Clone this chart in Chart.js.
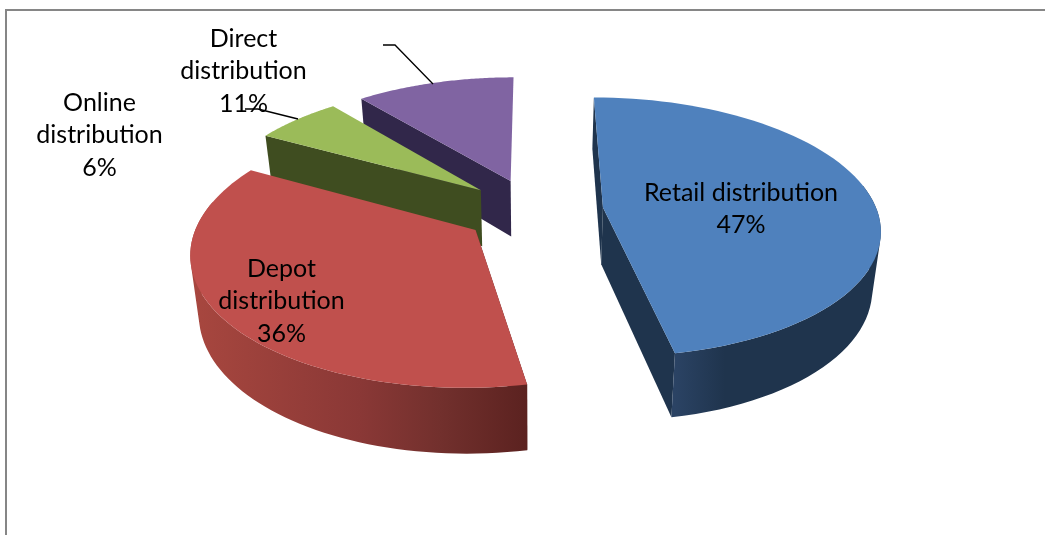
<!DOCTYPE html>
<html>
<head>
<meta charset="utf-8">
<style>html,body{margin:0;padding:0;background:#fff}canvas{display:block}</style>
<script src="https://cdn.jsdelivr.net/npm/chart.js@4"></script>
</head>
<body>
<canvas id="c" width="1045" height="535"></canvas>
<script>
const categories = ['Retail distribution', 'Depot distribution', 'Online distribution', 'Direct distribution'];
const shares = [47, 36, 6, 11];
const wrapLabel = [false, true, true, true];

const topColors = ['#4f81bd', '#c0504d', '#9bbb59', '#8064a2'];
const cutColors = ['#1f344d', '#5a211f', '#3f4d20', '#31274a'];
const wallStops = [
  [[675, '#2b4364'], [725, '#1f344d'], [880, '#1f344d']],
  [[190, '#a8473f'], [360, '#8a3836'], [440, '#72302d'], [533, '#5a211f']],
  [[260, '#3f4d20'], [340, '#3f4d20']],
  [[350, '#31274a'], [520, '#31274a']]
];
const labelCenters = [[741, 193], [281.5, 269], [99.5, 103], [243.5, 39]];
const leaders = [[[245, 109], [258, 109], [298, 119]], [[383, 45], [395, 45], [433, 84]]];

const view = {x0: 533.5, y0: 210.5, radius: 274, explode: 70, squash: 0.465, persp: 0.00055,
  baseShrink: 0.975, depth: 57, depthGrow: 0.05};

function projectTop(u, v) {
  const f = 1 / (1 - view.persp * v);
  return [view.x0 + u * f, view.y0 + view.squash * v * f];
}
function projectBase(u, v) {
  const f = 1 / (1 - view.persp * v);
  const y = view.y0 + view.squash * v * f;
  return [view.x0 + u * f * view.baseShrink, y + view.depth + view.depthGrow * (y - view.y0)];
}
function poly(ctx, pts, fill) {
  ctx.beginPath();
  pts.forEach((p, i) => i ? ctx.lineTo(p[0], p[1]) : ctx.moveTo(p[0], p[1]));
  ctx.closePath();
  ctx.fillStyle = fill;
  ctx.fill();
}
function signedArea(q) {
  let s = 0;
  q.forEach((p, i) => { const r = q[(i + 1) % q.length]; s += p[0] * r[1] - r[0] * p[1]; });
  return s;
}

const perspectivePie = {
  id: 'perspectivePie',
  beforeDraw(chart) {
    const ctx = chart.ctx;
    ctx.save();
    ctx.strokeStyle = '#868686';
    ctx.lineWidth = 2;
    ctx.strokeRect(6, 10, 1200, 1000);
    ctx.restore();
  },
  beforeDatasetDraw(chart, args) {
    const ctx = chart.ctx;
    const arcs = args.meta.data;
    const order = [3, 2, 1, 0];
    order.forEach(i => {
      const a = arcs[i];
      const mid = (a.startAngle + a.endAngle) / 2;
      const ox = view.explode * Math.cos(mid), oy = view.explode * Math.sin(mid);
      const n = 72, rim = [], angles = [];
      for (let k = 0; k <= n; k++) {
        const t = a.startAngle + (a.endAngle - a.startAngle) * k / n;
        angles.push(t);
        rim.push([ox + view.radius * Math.cos(t), oy + view.radius * Math.sin(t)]);
      }
      const topRim = rim.map(p => projectTop(p[0], p[1]));
      const baseRim = rim.map(p => projectBase(p[0], p[1]));
      const apexT = projectTop(ox, oy), apexB = projectBase(ox, oy);
      // cut faces: the closing face only shows when it turns towards the viewer
      poly(ctx, [topRim[0], apexT, apexB, baseRim[0]], cutColors[i]);
      if (a.endAngle < Math.PI) poly(ctx, [topRim[n], apexT, apexB, baseRim[n]], cutColors[i]);
      // outer wall, front-facing part only: one path of same-orientation quads, so no seams show
      const stops = wallStops[i];
      const x1 = stops[0][0], x2 = stops[stops.length - 1][0];
      const g = ctx.createLinearGradient(x1, 0, x2, 0);
      stops.forEach(s => g.addColorStop((s[0] - x1) / (x2 - x1), s[1]));
      ctx.beginPath();
      for (let k = 0; k < n; k++) {
        if (Math.sin(angles[k]) < -0.2) continue;
        let q = [topRim[k], topRim[k + 1], baseRim[k + 1], baseRim[k]];
        if (signedArea(q) < 0) q = q.reverse();
        q.forEach((p, j) => j ? ctx.lineTo(p[0], p[1]) : ctx.moveTo(p[0], p[1]));
        ctx.closePath();
      }
      ctx.fillStyle = g;
      ctx.fill('nonzero');
      // top face
      poly(ctx, [apexT].concat(topRim), topColors[i]);
    });
    return false;
  },
  afterDatasetsDraw(chart) {
    const ctx = chart.ctx;
    ctx.save();
    ctx.strokeStyle = '#000';
    ctx.lineWidth = 1.3;
    leaders.forEach(l => {
      ctx.beginPath();
      l.forEach((p, i) => i ? ctx.lineTo(p[0], p[1]) : ctx.moveTo(p[0], p[1]));
      ctx.stroke();
    });
    ctx.fillStyle = '#000';
    ctx.font = '25px Lato';
    ctx.textAlign = 'center';
    ctx.textBaseline = 'middle';
    categories.forEach((name, i) => {
      const lines = (wrapLabel[i] ? name.split(' ') : [name]).concat(shares[i] + '%');
      lines.forEach((s, j) => ctx.fillText(s, labelCenters[i][0], labelCenters[i][1] + j * 32.3));
    });
    ctx.restore();
  }
};

new Chart(document.getElementById('c'), {
  type: 'pie',
  data: {labels: categories, datasets: [{data: shares, backgroundColor: topColors, borderWidth: 0}]},
  options: {
    responsive: false,
    animation: false,
    plugins: {legend: {display: false}, tooltip: {enabled: false}}
  },
  plugins: [perspectivePie]
});
</script>
</body>
</html>
